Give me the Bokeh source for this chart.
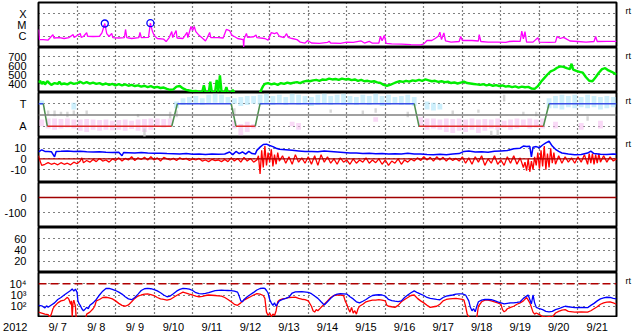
from bokeh.plotting import figure
from bokeh.layouts import column
from bokeh.models import (FixedTicker, CustomJSTickFormatter, LinearAxis, LogAxis,
                          Span, Range1d)
from bokeh.core.properties import value
from bokeh.embed import file_html
from bokeh.resources import INLINE

nan = float("nan")
FONT = "Liberation Sans"

# ---------------- data (x = hours since 2012-09-07 00:00) ----------------
day_labels = ["9/ 7", "9/ 8", "9/ 9", "9/10", "9/11", "9/12", "9/13", "9/14",
              "9/15", "9/16", "9/17", "9/18", "9/19", "9/20", "9/21"]
day_edges = [24, 48, 72, 96, 120, 144, 168, 192, 216, 240, 264, 288, 312, 336]
day_mids = [12, 36, 60, 84, 108, 132, 156, 180, 204, 228, 252, 276, 300, 324, 348]
year_label = "2012"

xray_labels = ["C", "M", "X"]
xray_ticks = [1e-6, 1e-5, 1e-4]
xray_hour = [0, 0.6, 3, 6, 7.4, 9, 9.6, 13, 16, 19, 21.6, 22.2, 26, 26.6, 28, 30, 30.6, 34, 38, 39.5,
             41.3, 42.5, 44, 45.6, 46.3, 50, 53.5, 54.2, 55, 58, 62.5, 63.2, 64, 68.5, 69.7, 71, 72, 74,
             78, 79.5, 81.4, 83, 83.6, 85.7, 86.3, 90, 92.5, 93, 95, 96, 97, 98, 100, 102, 104, 105,
             106.6, 107.3, 112, 115, 117, 119, 120.5, 122, 124, 127.5, 127.8, 128.1, 129.5, 130.2, 134,
             135.5, 136, 141, 143, 145, 147, 148.5, 150, 153, 154.5, 155.5, 158, 161, 163, 166, 167.7,
             170, 175, 180, 181, 182, 188, 192, 196, 201, 203, 206, 208, 212, 213, 214, 215.5, 216.5,
             220, 226, 232, 238, 240, 242, 245, 247, 249, 250, 251, 252.5, 253.5, 257, 262, 263, 264,
             270, 274, 274.5, 275.5, 280, 286, 291, 293, 296, 300, 301, 302, 303, 304, 308, 311, 312,
             318, 322, 323, 325, 327, 329, 331, 336, 341, 346, 347, 348, 354, 360]
xray_flux = [4.0e-6, 5.0e-7, 5.1e-7, 4.6e-7, 7.7e-7, 1.4e-6, 7.0e-7, 7.7e-7, 6.3e-7, 7.7e-7, 1.4e-6,
             7.7e-7, 1.75e-6, 8.0e-7, 9.5e-7, 2.1e-6, 1.0e-6, 9.5e-7, 1.0e-6, 2.0e-6,
             1.36e-5, 1.7e-6, 9.5e-7, 1.8e-6, 7.7e-7, 7.0e-7, 7.7e-7, 4.0e-6, 7.7e-7, 6.3e-7, 7.7e-7,
             2.2e-6, 7.7e-7, 8.0e-7, 1.45e-5, 2.6e-6, 1.2e-6, 6.3e-7,
             5.5e-7, 3.4e-7, 7.7e-7, 2.6e-6, 7.7e-7, 3.2e-6, 7.0e-7, 6.3e-7, 2.2e-6, 7.7e-7, 7.4e-6,
             3.2e-6, 7.4e-6, 2.6e-6, 1.2e-6, 7.0e-7, 3.8e-7, 7.0e-7,
             2.2e-6, 7.7e-7, 7.7e-7, 7.0e-7, 4.0e-6, 3.2e-6, 1.2e-6, 9.5e-7, 6.3e-7, 5.0e-7, 1.1e-7,
             6.3e-7, 1.75e-6, 8.0e-7, 9.0e-7,
             1.3e-6, 7.7e-7, 6.3e-7, 4.5e-7, 2.1e-6, 1.75e-6, 2.1e-6, 1.0e-6, 7.7e-7, 1.7e-6, 8.0e-7,
             6.3e-7, 5.0e-7, 3.0e-7, 2.5e-7, 4.2e-7,
             2.5e-7, 2.3e-7, 2.8e-7, 3.6e-7, 2.5e-7, 2.3e-7, 3.0e-7, 2.8e-7, 3.8e-7, 2.5e-7, 3.5e-7,
             2.4e-7, 2.5e-7, 1.0e-6, 4.0e-7, 1.2e-6, 2.3e-7,
             2.1e-7, 2.0e-7, 1.8e-7, 1.7e-7, 2.1e-7, 4.2e-7, 4.2e-7, 6.3e-7, 1.0e-6, 2.3e-6, 5.0e-7,
             2.0e-6, 3.8e-7, 3.0e-7, 3.4e-7, 9.5e-7, 4.2e-7,
             4.2e-7, 3.8e-7, 1.4e-6, 3.4e-7, 3.0e-7, 3.0e-7, 2.8e-7, 3.4e-7, 3.6e-7, 3.5e-7, 2.8e-6,
             6.0e-7, 2.6e-6, 3.0e-7, 3.0e-7, 7.5e-7, 3.0e-7,
             2.8e-7, 3.0e-7, 9.5e-7, 6.3e-7, 8.0e-7, 5.5e-7, 3.8e-7, 3.4e-7, 3.0e-7, 3.4e-7, 9.5e-7,
             3.4e-7, 3.5e-7, 3.5e-7]
flare_hour = [41.3, 69.7]
flare_flux = [1.36e-5, 1.45e-5]

speed_ticks = [400, 500, 600, 700]
speed_hour = [0, 1, 2, 3, 4, 5.5, 7, 8, 10, 12, 13, 14, 16, 18, 20, 22, 24, 26, 28, 30, 32, 34, 36, 38,
              40, 42, 44, 46, 48, 50, 52, 54, 56, 58, 60, 62, 64, 66, 68, 70, 72, 74, 76, 78, 80, 82,
              84, 86, 88, 90, 92, 94, 96, 98, 100, 102, 103, 104, 106, 107, 108, 110, 111, 112, 113,
              114, 116, 117, 118, 120, 121, 122, 130, 138, 139, 140, 141, 143, 145,
              147, 149, 151, 153, 155, 157, 159, 161, 163, 165, 167, 169, 171, 173, 175, 177, 179, 181,
              183, 185, 187, 189, 191, 193, 195, 197, 199, 201, 203, 205, 207, 209, 211, 213, 215, 217,
              219, 221, 223, 225, 227, 229, 231, 233, 235, 237, 239, 241, 243, 245, 247, 249, 251, 253,
              255, 257, 259, 261, 263, 265, 267, 269, 271, 273, 275, 277, 279, 281, 283, 285, 287, 289,
              291, 293, 295, 297, 299, 301, 303, 305, 307, 309, 311, 313, 315, 317, 319, 321, 323, 325,
              327, 329, 331, 332, 333, 335, 337, 339, 341, 343, 345, 347, 349, 351, 353, 355, 357, 359, 360]
speed_val = [410, 430, 395, 420, 390, 425, 400, 385, 405, 395, 420, 392, 400, 390, 410, 395, 405, 420,
             400, 415, 398, 410, 395, 405, 388, 400, 385, 395, 380, 392, 378, 390, 375, 385, 372, 380,
             365, 375, 360, 370, 355, 362, 350, 355, 340, 330, 335, 365, 372, 345, 330, 322, 315, 318,
             305, 310, 380, 305, 300, 420, 300, 310, 440, 305, 490, 310, 305, 360, 300,
             300, 330, 300, nan, 300, 340, 375, 395, 405, 390, 400, 385, 405, 395, 410, 400, 410,
             415, 405, 420, 430, 425, 435, 440, 430, 445, 440, 455, 445, 450, 440, 455, 445, 450, 438,
             445, 430, 440, 425, 430, 420, 425, 412, 405, 385, 375, 385, 400, 415, 425, 418, 430, 420,
             435, 428, 440, 430, 445, 435, 425, 430, 418, 425, 415, 420, 405, 412, 400, 410, 420, 405,
             400, 395, 390, 385, 392, 380, 388, 375, 382, 372, 378, 365, 372, 360, 368, 355, 365, 358,
             362, 345, 340, 370, 420, 460, 500, 535, 550, 575, 590, 585, 570, 560, 620, 555, 540, 530,
             520, 470, 430, 425, 470, 520, 560, 570, 545, 530, 510, 500]

sector_labels = ["A", "T"]
sector_hour = [0, 3, 5.5, 83, 86.5, 120, 123, 135, 138, 234, 237, 314.5, 318, 360]
sector_value = [1, 1, -1, -1, 1, 1, -1, -1, 1, 1, -1, -1, 1, 1]
phi_hour = list(range(2, 360, 4))
toward_lo = [0.9, nan, nan, nan, nan, 0.5, nan, nan, nan, nan, nan, nan, nan, nan, nan, nan, nan, nan,
             nan, nan, nan, 0.6, 0.9, 0.9, 1.0, 0.9, 1.0, 1.1, 1.0, 1.0, 1.0, 0.8, 0.9, 1.0, 0.9, 1.0,
             0.9, 1.0, 0.9, 1.0, 0.9, 1.0, 0.8, 0.9, 1.0, 0.9, 1.0, 0.9, 1.0, 0.9, 1.0, 0.9, 1.0, 0.8,
             0.9, 1.0, 0.9, 0.9, 0.8, nan, 0.5, 0.4, 0.5, nan, nan, nan, nan, nan, nan, nan, nan, nan,
             nan, nan, nan, nan, nan, nan, nan, 0.6, 0.6, 0.5, 0.7, 0.6, 0.7, 0.6, 0.7, 0.5, 0.6, 0.7]
toward_hi = [1.3, nan, nan, nan, nan, 1.1, nan, nan, nan, nan, nan, nan, nan, nan, nan, nan, nan, nan,
             nan, nan, nan, 1.2, 1.5, 1.6, 1.7, 1.5, 1.8, 1.9, 1.8, 1.6, 1.5, 1.6, 1.7, 1.7, 1.8, 1.9,
             1.7, 1.8, 1.6, 1.9, 1.8, 1.7, 1.6, 1.8, 1.9, 1.7, 1.8, 1.9, 1.7, 1.6, 1.8, 1.7, 1.9, 1.7,
             1.8, 1.6, 1.7, 1.8, 1.6, nan, 1.2, 1.1, 1.0, nan, nan, nan, nan, nan, nan, nan, nan, nan,
             nan, nan, nan, nan, nan, nan, nan, 1.5, 1.7, 1.8, 1.7, 1.8, 1.6, 1.8, 1.7, 1.6, 1.7, 1.6]
away_lo = [-1.0, -1.2, -1.3, -1.2, -1.1, -1.2, -1.4, -1.5, -1.3, -1.4, -1.3, -1.35, -1.3, -1.4, -1.25,
           -1.4, -1.5, -1.3, -1.0, -1.1, -1.0, nan, nan, nan, nan, nan, nan, nan, nan, nan, -1.2, -1.8,
           -1.5, -1.2, nan, nan, nan, nan, nan, -1.0, -1.3, nan, nan, nan, nan, nan, nan, nan, nan,
           nan, nan, nan, -0.6, nan, nan, nan, nan, nan, nan, -0.9, -1.3, -1.2, -1.3, -1.5, -1.6, -1.4,
           -1.5, -1.3, -1.6, -1.4, -1.2, -1.3, -1.1, -1.3, -1.2, -1.0, -1.2, -1.1, -1.2, nan, -1.2, nan,
           nan, nan, -1.3, nan, nan, -1.2, nan, nan]
away_hi = [-0.4, -0.3, -0.3, -0.35, -0.3, -0.4, -0.4, -0.35, -0.4, -0.45, -0.4, -0.5, -0.45, -0.4, -0.5,
           -0.4, -0.35, -0.3, -0.3, -0.35, -0.3, nan, nan, nan, nan, nan, nan, nan, nan, nan, -0.5, -0.8,
           -0.6, -0.8, nan, nan, nan, nan, nan, -0.6, -0.7, nan, nan, nan, nan, nan, nan, nan, nan,
           nan, nan, nan, -0.2, nan, nan, nan, nan, nan, nan, -0.2, -0.3, -0.3, -0.4, -0.3, -0.35, -0.3,
           -0.4, -0.3, -0.4, -0.35, -0.4, -0.3, -0.5, -0.4, -0.3, -0.4, -0.3, -0.4, -0.3, nan, -0.6, nan,
           nan, nan, -0.7, nan, nan, -0.5, nan, nan]
mixed_hour = [6, 10, 14, 18, 22, 30, 62, 66, 82, 86, 122, 182, 202, 210, 230, 258, 274, 282, 286, 290,
              302, 310, 342]
mixed_lo = [0.0, -0.1, 0.0, -0.2, 0.0, 0.1, -0.2, -1.9, -0.3, -0.2, 0.0, 0.2, 0.1, 0.2, -0.2, 0.1, 0.2,
            -1.8, -1.8, 1.2, 0.0, -0.1, -0.5]
mixed_hi = [0.4, 0.4, 0.3, 0.3, 0.4, 0.4, 0.1, -1.2, 0.3, 0.4, 0.6, 0.5, 0.4, 0.6, 0.3, 0.4, 0.5,
            -1.4, -1.3, 1.8, 0.3, 0.3, -0.1]

imf_ticks = [-10, 0, 10]
bt_hour = [0, 2, 4, 6, 8, 10, 11, 14, 18, 22, 26, 30, 34, 38, 42, 46, 50, 52, 53, 56, 60, 64, 68, 72, 76,
           80, 84, 88, 92, 96, 100, 104, 108, 112, 116, 119, 121, 123, 125, 127, 129, 131, 133, 135, 136,
           138, 140, 142, 144, 146, 148, 150, 154, 158, 162, 166, 170, 174, 178, 182, 186, 190, 194, 198,
           202, 206, 210, 214, 218, 222, 226, 230, 234, 238, 242, 246, 250, 254, 258, 262, 265, 268, 272,
           276, 280, 284, 288, 292, 296, 300, 302, 304, 306, 307, 308, 310, 312, 314, 316, 318, 320, 322,
           324, 326, 330, 334, 338, 342, 344, 346, 350, 354, 358, 360]
bt_val = [6.5, 8.5, 7.0, 7.0, 6.8, 2.0, 7.0, 7.2, 7.5, 7.0, 7.2, 6.8, 6.5, 6.8, 6.2, 6.0, 6.3, 3.0, 6.0,
          5.8, 5.5, 6.0, 5.5, 5.2, 5.4, 5.0, 4.8, 4.6, 5.0, 4.4, 4.6, 4.2, 4.5, 4.3, 4.6, 6.5, 4.0, 7.0,
          5.0, 6.5, 4.5, 7.0, 5.0, 4.5, 8.0, 11.0, 13.5, 13.8, 12.5, 11.5, 10.0, 9.0, 8.5, 8.0, 7.5, 7.0,
          7.0, 6.8, 7.5, 7.0, 6.5, 6.0, 5.5, 5.6, 5.0, 5.2, 4.8, 5.0, 4.6, 4.8, 4.5, 5.2, 4.6, 4.5, 4.2,
          4.0, 4.4, 4.0, 4.6, 5.0, 7.0, 7.5, 6.5, 6.8, 6.2, 7.2, 7.5, 7.8, 9.5, 10.0, 12.0, 11.5, 11.8,
          2.0, 11.0, 11.5, 10.5, 13.0, 15.0, 16.5, 12.0, 9.0, 7.0, 5.5, 4.5, 4.0, 4.2, 5.5, 7.2, 5.0, 4.4,
          4.2, 4.5, 4.3]
bz_hour = [0, 1, 2, 4, 6, 8, 10, 12, 14, 16, 18, 20, 22, 24, 26, 27, 28, 30, 32, 34, 36, 38, 40, 42, 44,
           46, 48, 50, 52, 54, 56, 58, 60, 62, 64, 66, 68, 70, 72, 74, 76, 78, 80, 82, 84, 86, 88, 90, 92,
           94, 96, 98, 100, 102, 104, 106, 108, 110, 112, 114, 116, 118, 120, 122, 124, 126, 128, 130,
           132, 134, 136, 137, 138, 139, 140, 141, 142, 143, 144, 145, 146, 147, 148, 149, 150, 152, 154,
           156, 158, 160, 162, 164, 166, 168, 170, 172, 174, 176, 178, 180, 182, 184, 186, 188, 190, 192,
           194, 196, 198, 200, 202, 204, 206, 208, 210, 212, 214, 216, 218, 220, 222, 224, 226, 228, 230,
           232, 234, 236, 238, 240, 242, 244, 246, 248, 250, 252, 254, 256, 258, 260, 262, 264, 266, 268,
           270, 272, 274, 276, 278, 280, 282, 284, 286, 288, 290, 292, 294, 296, 298, 300, 302, 303, 304,
           305, 306, 307, 308, 309, 310, 311, 312, 313, 314, 315, 316, 317, 318, 319, 320, 321, 322, 324,
           326, 328, 330, 332, 334, 336, 338, 340, 342, 343, 344, 345, 346, 347, 348, 349, 350, 352, 354,
           356, 358, 360]
bz_val = [3, -2, -6, -5, -3.5, -5, -4, -5.5, -3.5, -5, -4, -5.5, -3, -4.5, -2, 1, -3.5, -1.5, -3, -0.5,
          -2.5, 0.5, -2, -1, -3, 0, -1.5, 1, -2, 0.5, -1, 2, -1.5, 1, -0.5, 1.5, -1, 2, -1, 1, -2, 1.5, 0,
          -1, 0.5, -1.5, 1, -0.5, 0.5, -1.5, 0, -1, 0.5, -2, -1, -2.5, -0.5, -1.5, -1, -2.5, -0.5, -2.5, 1,
          -2, 0.5, -3, 1.5, -2, 0.5, -3, -1, 3, -14, 8, -8, 12, -6, 6, -3, 9, -7, 4, -5, 6, -2, 3, -4, 2,
          -5, 4, -3, 1, -4, 2, -5, 3, -6, 4, -3, 2, -4, 0, -5, 1, -3, -1, -5, 0, -4, -1, -3, 1, -4, -1,
          -3.5, 0, -5, -1, -6, -2, -4, 0, -5, -1, -3, 0, -2, 1, -1.5, 2, -1, 1.5, -2, 2, -1, 1.5, -2, 1,
          -1.5, 0.5, -2, 2, -4, 1, -5, 2, -3, 3, -6, 0, -4, 3, -5, -1, -6, 2, -4, 3, -5, 1, -8, -3, -11,
          0, -12, -2, -10, 2, -6, 6, -9, 8, -7, 12, -10, 5, -8, 10, -4, 6, -5, 3, -4, 2, -3, 1, -4, 2, -3,
          4, -5, 5, -4, 5, -5, 4, -4, 5, -3, 3, -3, 2, -2, 0]

dst_ticks = [-100, 0]
ae_ticks = [20, 40, 60]

elec_ticks = [1e2, 1e3, 1e4]
elec_labels = ["10\u00b2", "10\u00b3", "10\u2074"]
eb_hour = [0, 2, 4, 5, 6, 8, 10, 12, 14, 16, 18, 20, 21, 22, 23, 24, 24.5, 25, 26, 27, 28, 29, 30, 31,
           32, 34, 36, 38, 40, 42, 44, 46, 48, 50, 52, 54, 56, 58, 60, 62, 64, 66, 68, 70, 72, 74, 76, 78,
           80, 82, 84, 86, 88, 90, 92, 94, 96, 98, 100, 102, 104, 106, 108, 110, 112, 114, 116, 118, 120,
           122, 124, 125, 126, 127, 128, 130, 132, 134, 136, 138, 140, 141, 142, 143, 144, 145, 146, 147,
           148, 149, 150, 152, 154, 156, 158, 160, 164, 168, 170, 172, 174, 176, 178, 180, 182, 184, 186,
           188, 190, 192, 194, 196, 198, 200, 202, 204, 206, 208, 210, 212, 214, 216, 218, 220, 222, 224,
           226, 228, 230, 232, 234, 236, 238, 240, 242, 244, 246, 248, 250, 252, 254, 256, 258, 260, 262,
           264, 266, 268, 269, 270, 271, 272, 273, 274, 276, 278, 280, 282, 284, 286, 288, 290, 292, 294,
           296, 298, 300, 302, 304, 305, 306, 307, 308, 309, 310, 312, 314, 316, 318, 320, 322, 324, 326,
           328, 330, 334, 338, 342, 344, 346, 348, 350, 352, 354, 356, 358, 360]
eb_flux = [120, 110, 70, 110, 80, 130, 200, 400, 600, 1000, 1600, 2500, 3500, 2200, 3300, 1800, 350, 200,
           120, 60, 40, 55, 80, 60, 120, 200, 400, 1000, 2200, 3800, 3900, 3200, 2500, 1800, 1200, 700, 450,
           380, 600, 1200, 2500, 3600, 3900, 3600, 3000, 2300, 1600, 1000, 700, 800, 1300, 2200, 3200, 3900,
           3700, 3300, 2500, 1600, 1300, 1250, 1400, 1600, 2000, 2400, 2600, 2700, 2600, 2500, 2400, 2200,
           1800, 800, 300, 250, 400, 700, 1100, 1700, 2800, 3800, 4000, 3800, 2500, 1500, 400, 200, 120,
           200, 100, 180, 300, 400, 500, 650, 1500, 1900, 2000, 1700, 1300, 800, 500, 250, 130, 250, 500,
           900, 1200, 1300, 1250, 1200, 700, 450, 250, 200, 280, 400, 630, 900, 1000, 1050, 1000, 800, 400,
           320, 280, 260, 300, 600, 1000, 1600, 2300, 1600, 1200, 900, 600, 500, 450, 400, 380, 600, 800,
           900, 1000, 1200, 1260, 1250, 1000, 300, 80, 40, 60, 32, 100, 250, 350, 400, 400, 380, 320, 250,
           200, 160, 180, 200, 200, 220, 250, 500, 800, 1000, 400, 160, 1000, 200, 80, 60, 50, 35, 32, 35,
           50, 60, 80, 100, 90, 75, 80, 75, 120, 180, 300, 450, 550, 630, 600, 500, 450]
er_hour = [0, 2, 4, 6, 7, 8, 9, 10, 12, 14, 16, 18, 19, 20, 20.5, 21, 21.5, 22, 23, 23.5, 26, 29, 30, 32,
           34, 35, 36, 38, 40, 42, 44, 46, 48, 50, 52, 54, 56, 58, 60, 62, 64, 66, 68, 70, 72, 74, 76, 78,
           80, 82, 84, 86, 88, 90, 92, 94, 96, 98, 100, 102, 104, 106, 108, 110, 112, 114, 116, 118, 120,
           122, 124, 126, 128, 130, 132, 134, 136, 138, 140, 141, 142, 143, 144, 145, 146, 147, 148, 149,
           150, 152, 154, 156, 158, 160, 162, 164, 166, 168, 170, 171, 172, 173, 174, 176, 178, 180, 182,
           184, 186, 188, 190, 191, 192, 193, 194, 195, 196, 197, 198, 199, 200, 202, 204, 206, 208, 210,
           212, 214, 216, 217, 218, 220, 222, 224, 226, 228, 230, 232, 234, 236, 238, 240, 242, 244, 246,
           248, 250, 252, 254, 256, 258, 260, 262, 264, 265, 266, 267, 268, 270, 272, 273, 274, 276, 278,
           280, 282, 284, 286, 288, 289, 290, 291, 292, 294, 296, 298, 300, 302, 304, 305, 306, 307, 308,
           309, 310, 312, 314, 316, 318, 320, 322, 324, 326, 328, 330, 334, 338, 342, 344, 346, 348, 350,
           352, 354, 356, 358, 360]
er_flux = [30, 25, 20, 18, 11, 20, 60, 100, 200, 300, 350, 630, 400, 150, 300, 12, 200, 350, 100, 8, 5, 5,
           20, 30, 60, 100, 300, 400, 600, 630, 560, 450, 300, 180, 120, 100, 130, 250, 500, 800, 1000,
           1200, 1250, 1100, 900, 600, 450, 400, 350, 400, 600, 900, 1300, 1800, 1500, 1200, 1000, 800,
           700, 750, 900, 1000, 950, 900, 850, 800, 600, 400, 250, 150, 120, 200, 350, 500, 700, 1000,
           1300, 1200, 900, 500, 30, 15, 25, 12, 20, 15, 40, 250, 350, 450, 500, 600, 620, 650, 500, 420,
           380, 300, 100, 40, 30, 50, 40, 80, 150, 300, 600, 900, 1000, 1000, 900, 300, 150, 60, 30, 80, 25,
           40, 20, 60, 100, 150, 250, 300, 350, 350, 380, 350, 300, 120, 100, 90, 80, 120, 250, 400, 600,
           900, 1000, 500, 300, 200, 120, 80, 90, 100, 150, 300, 400, 450, 480, 500, 450, 400, 350, 100, 20,
           11, 8, 6, 11, 100, 250, 350, 350, 300, 250, 200, 150, 50, 32, 40, 60, 80, 100, 150, 200, 300,
           600, 350, 200, 80, 30, 20, 25, 18, 12, 11, 12, 11, 25, 35, 45, 50, 35, 30, 32, 30, 40, 60, 90,
           150, 200, 230, 250, 200, 150]

# ---------------- styling helpers ----------------
W = 633
LEFT, RIGHT = 33, 16


def style_label_axis(ax, size="11px", standoff=6):
    ax.axis_line_color = None
    ax.major_tick_line_color = None
    ax.minor_tick_line_color = None
    ax.major_label_standoff = standoff
    ax.major_label_text_font = FONT
    ax.major_label_text_font_size = size
    ax.major_label_text_color = "black"


def label_formatter(ticks, labels):
    return CustomJSTickFormatter(
        args=dict(t=ticks, l=labels),
        code="""
        for (let i = 0; i < t.length; i++) {
          if (Math.abs(tick - t[i]) <= 1e-9 * Math.max(Math.abs(t[i]), 1e-12)) return l[i];
        }
        return '';""")


def panel(height, yr, yticks, ylabels, log=False, top=0):
    p = figure(width=W, height=height, x_range=Range1d(0, 360), y_range=Range1d(*yr),
               y_axis_type="log" if log else "linear", output_backend="svg",
               toolbar_location=None, title=None,
               min_border_left=LEFT, min_border_right=RIGHT,
               min_border_top=top, min_border_bottom=0)
    p.outline_line_color = "black"
    p.outline_line_width = 2
    p.outline_line_alpha = 1
    p.background_fill_color = "white"
    p.border_fill_color = "white"
    p.xaxis.visible = False
    p.xgrid.ticker = FixedTicker(ticks=day_edges)
    p.xgrid.grid_line_color = "black"
    p.xgrid.grid_line_dash = "1 3"
    p.xgrid.grid_line_width = 1.2
    ax = p.yaxis[0]
    ax.ticker = FixedTicker(ticks=yticks)
    ax.formatter = label_formatter(yticks, ylabels)
    style_label_axis(ax)
    p.ygrid.ticker = FixedTicker(ticks=yticks)
    p.ygrid.grid_line_color = "black"
    p.ygrid.grid_line_dash = "1 4"
    p.ygrid.grid_line_width = 1.2
    return p


def add_rt(p, val, log=False):
    cls = LogAxis if log else LinearAxis
    ax = cls(ticker=FixedTicker(ticks=[val]),
             formatter=CustomJSTickFormatter(code="return 'rt';"))
    style_label_axis(ax, size="9px", standoff=3)
    p.add_layout(ax, "right")


# Panel 1: X-ray
p1 = panel(47, (1e-7, 1e-3), xray_ticks, xray_labels, log=True, top=2)
p1.line(xray_hour, xray_flux, line_color="#ff00ff", line_width=1.3)
p1.scatter(flare_hour, flare_flux, marker="circle", size=7, fill_color=None,
           line_color="#0000ff", line_width=1.3)
add_rt(p1, 1.7e-4, log=True)

# Panel 2: solar wind speed
p2 = panel(45, (300, 800), speed_ticks, [str(v) for v in speed_ticks])
p2.line(speed_hour, speed_val, line_color="#00ee00", line_width=2.4)
add_rt(p2, 702)

# Panel 3: sector T/A
p3 = panel(45, (-2, 2), [-1, 1], sector_labels)
p3.vbar(x=phi_hour, width=3, bottom=toward_lo, top=toward_hi, fill_color="#b2e6fa",
        line_color=None, fill_alpha=0.65)
p3.vbar(x=phi_hour, width=3, bottom=away_lo, top=away_hi, fill_color="#f4b9ee",
        line_color=None, fill_alpha=0.55)
p3.vbar(x=mixed_hour, width=1.5, bottom=mixed_lo, top=mixed_hi, fill_color="#cccccc",
        line_color=None, fill_alpha=0.8)
p3.add_layout(Span(location=0, dimension="width", line_color="#808080", line_width=1.5))
seg_x0, seg_x1, seg_y0, seg_y1, seg_c = [], [], [], [], []
for i in range(len(sector_hour) - 1):
    a, b = sector_value[i], sector_value[i + 1]
    seg_x0.append(sector_hour[i]); seg_x1.append(sector_hour[i + 1])
    seg_y0.append(a); seg_y1.append(b)
    seg_c.append("#3a4ee6" if a == b == 1 else ("#e02a2a" if a == b == -1 else "#4e8f4e"))
p3.segment(x0=seg_x0, y0=seg_y0, x1=seg_x1, y1=seg_y1, line_color=seg_c, line_width=1.5)
add_rt(p3, 1.26)

# Panel 4: IMF Bt / Bz
p4 = panel(45, (-22, 20), imf_ticks, ["-10", "0", "10"])
p4.add_layout(Span(location=0, dimension="width", line_color="#b00000", line_width=1.2))
p4.line(bz_hour, bz_val, line_color="#ff0000", line_width=1.3)
p4.line(bt_hour, bt_val, line_color="#0000ff", line_width=1.5)
add_rt(p4, 13.5)

# Panel 5: Dst
p5 = panel(45, (-200, 100), dst_ticks, ["-100", "0"])
p5.add_layout(Span(location=0, dimension="width", line_color="#a00000", line_width=1.5))

# Panel 6
p6 = panel(45, (0, 80), ae_ticks, ["20", "40", "60"])

# Panel 7: electrons
p7 = panel(45, (10, 1e5), elec_ticks, elec_labels, log=True)
p7.add_layout(Span(location=1e4, dimension="width", line_color="#b00000", line_width=1.5,
                   line_dash="8 4"))
p7.line(er_hour, er_flux, line_color="#ff0000", line_width=1.3)
p7.line(eb_hour, eb_flux, line_color="#0000ff", line_width=1.3)
add_rt(p7, 1.7e4, log=True)

# Bottom strip: date labels in its frame (same hour scale), year as its left axis label
strip = figure(width=W, height=17, output_backend="svg", toolbar_location=None, title=None,
               x_range=Range1d(0, 360), y_range=Range1d(0, 1),
               min_border_left=LEFT, min_border_right=RIGHT, min_border_top=0, min_border_bottom=0)
strip.outline_line_color = None
strip.grid.visible = False
strip.xaxis.visible = False
sax = strip.yaxis[0]
sax.ticker = FixedTicker(ticks=[0.47])
sax.formatter = CustomJSTickFormatter(args=dict(y=year_label), code="return y;")
style_label_axis(sax, standoff=5)
strip.text(x=day_mids, y=[0.47] * len(day_mids), text=day_labels, text_align="center",
           text_baseline="middle", text_font=value(FONT), text_font_size="11px", text_color="black")

layout = column(p1, p2, p3, p4, p5, p6, p7, strip, spacing=0)
open("out.html", "w").write(file_html(layout, INLINE))
